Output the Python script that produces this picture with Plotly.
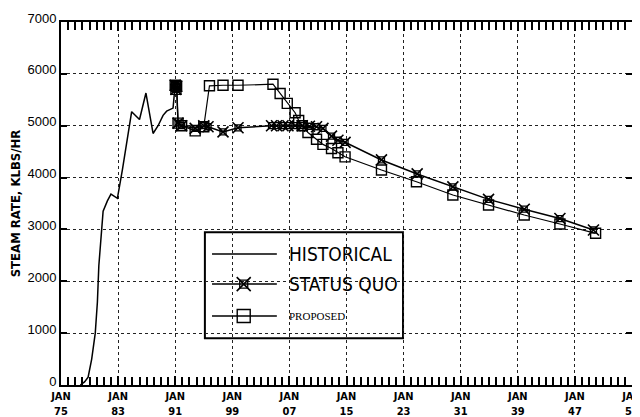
import plotly.graph_objects as go

# ---- data (years as decimal years) ----
hist_years = [1977.7, 1978.3, 1978.8, 1979.3, 1979.8, 1980.1, 1980.3, 1980.6, 1980.9,
              1981.5, 1982.0, 1982.9, 1983.6, 1984.9, 1985.6, 1986.0, 1986.9, 1987.9,
              1988.6, 1989.3, 1989.8, 1990.7, 1991.0]
hist_vals = [0, 60, 150, 500, 1000, 1600, 2300, 2900, 3350,
             3550, 3680, 3600, 4150, 5270, 5180, 5120, 5630, 4850,
             5000, 5200, 5280, 5340, 5800]

sq_years = [1991.0, 1991.1, 1991.2, 1991.4, 1991.9, 1993.8, 1995.0, 1995.6, 1997.7,
            1999.8, 2004.5, 2005.2, 2006.1, 2006.8, 2007.8, 2008.8, 2009.8, 2010.8,
            2011.7, 2012.9, 2013.8, 2014.8, 2019.9, 2024.9, 2029.9, 2034.9, 2039.9,
            2044.9, 2049.6]
sq_vals = [5780, 5700, 5760, 5050, 5000, 4950, 5000, 4980, 4880,
           4960, 5000, 5000, 5000, 5000, 5000, 5000, 4990, 4980,
           4950, 4800, 4720, 4680, 4340, 4070, 3820, 3580, 3390,
           3210, 2990]

prop_years = [1991.0, 1991.1, 1991.2, 1991.4, 1991.9, 1993.8, 1995.0, 1995.8, 1997.7,
              1999.8, 2004.7, 2005.7, 2006.7, 2007.8, 2008.3, 2008.8, 2009.6, 2010.8,
              2011.7, 2012.9, 2013.8, 2014.8, 2019.9, 2024.8, 2029.9, 2034.9, 2039.9,
              2044.9, 2049.9]
prop_vals = [5780, 5700, 5760, 5050, 5000, 4900, 4980, 5770, 5780,
             5780, 5800, 5620, 5430, 5250, 5100, 5000, 4870, 4740,
             4640, 4560, 4480, 4400, 4146, 3920, 3664, 3471, 3278,
             3105, 2925]

x_tick_years = [1975, 1983, 1991, 1999, 2007, 2015, 2023, 2031, 2039, 2047, 2055]
x_ticktext = ["JAN<br>75", "JAN<br>83", "JAN<br>91", "JAN<br>99", "JAN<br>07", "JAN<br>15",
              "JAN<br>23", "JAN<br>31", "JAN<br>39", "JAN<br>47", "JAN<br>55"]
y_tickvals = [0, 1000, 2000, 3000, 4000, 5000, 6000, 7000]

legend_names = ["HISTORICAL", "STATUS QUO", "PROPOSED"]

X_RANGE = [1975, 2055]
Y_RANGE = [0, 7000]

# ---- legend layout (fractions of plot area) ----
leg_box = dict(x0=0.252, x1=0.599, y0=0.129, y1=0.421)
leg_rows_y = [0.361, 0.278, 0.190]
leg_line_x = [0.2645, 0.378]
leg_marker_x = 0.320
leg_text_x = 0.396


def fx(f):
    return X_RANGE[0] + f * (X_RANGE[1] - X_RANGE[0])


def fy(f):
    return Y_RANGE[0] + f * (Y_RANGE[1] - Y_RANGE[0])


COND = "DejaVu Sans Condensed, Liberation Sans Narrow, sans-serif"

X_MARK = dict(symbol="x-thin-open", size=11, color="black", line=dict(width=1.6, color="black"))
X_BOX = dict(symbol="square-open", size=6, color="black", line=dict(width=1.3, color="black"))
P_MARK = dict(symbol="square-open", size=10, color="black", line=dict(width=1.4, color="black"))

fig = go.Figure()

fig.add_trace(go.Scatter(x=hist_years, y=hist_vals, mode="lines",
                         line=dict(color="black", width=1.5), showlegend=False))
fig.add_trace(go.Scatter(x=sq_years, y=sq_vals, mode="lines+markers",
                         line=dict(color="black", width=1.5), marker=X_MARK,
                         showlegend=False))
fig.add_trace(go.Scatter(x=sq_years, y=sq_vals, mode="markers", marker=X_BOX,
                         showlegend=False))
fig.add_trace(go.Scatter(x=prop_years, y=prop_vals, mode="lines+markers",
                         line=dict(color="black", width=1.2), marker=P_MARK,
                         showlegend=False))

# ---- manual legend ----
marker_sets = [[], [dict(X_MARK, size=14), dict(X_BOX, size=8)], [dict(P_MARK, size=13)]]
for yv, mks in zip(leg_rows_y, marker_sets):
    fig.add_trace(go.Scatter(x=[fx(v) for v in leg_line_x], y=[fy(yv), fy(yv)],
                             mode="lines", line=dict(color="black", width=1.5),
                             showlegend=False))
    for mk in mks:
        fig.add_trace(go.Scatter(x=[fx(leg_marker_x)], y=[fy(yv)], mode="markers",
                                 marker=mk, showlegend=False))

fig.add_shape(type="rect", xref="paper", yref="paper", layer="between",
              line=dict(color="black", width=2), fillcolor="white", **leg_box)

fonts = [dict(family=COND, size=19, color="black"),
         dict(family=COND, size=19, color="black"),
         dict(family="Liberation Serif", size=11, color="black")]
for name, yv, f in zip(legend_names, leg_rows_y, fonts):
    fig.add_annotation(x=leg_text_x, y=yv, xref="paper", yref="paper", text=name,
                       showarrow=False, xanchor="left", yanchor="middle", font=f)

alias = {str(v): t for v, t in zip(x_tick_years, x_ticktext)}

# page has an 8px body margin: figure is 632x409 placed at (8,8)
fig.update_layout(
    width=632, height=409,
    margin=dict(l=53, r=8, t=14, b=32, autoexpand=False),
    paper_bgcolor="white", plot_bgcolor="white",
    font=dict(family="Liberation Sans", color="black"),
    xaxis=dict(range=X_RANGE, tickmode="linear", tick0=1975, dtick=8,
               labelalias=alias, ticks="inside", ticklen=9, tickwidth=1.5,
               tickcolor="black", mirror="allticks", showline=True, linecolor="black",
               linewidth=2, showgrid=True, gridcolor="#222", griddash="dot",
               gridwidth=1, zeroline=False, automargin=False,
               ticklabeloverflow="allow",
               tickfont=dict(family=COND, size=11, color="black", weight="bold"),
               minor=dict(dtick=1, ticks="inside", ticklen=8, tickwidth=1.5,
                          tickcolor="black", showgrid=False)),
    yaxis=dict(range=Y_RANGE, tickmode="array", tickvals=y_tickvals,
               ticks="inside", ticklen=6, tickwidth=1.5, tickcolor="black",
               mirror="allticks", showline=True, linecolor="black", linewidth=2,
               showgrid=True, gridcolor="#222", griddash="dot", gridwidth=1,
               zeroline=False, automargin=False, ticklabelshift=-4,
               tickfont=dict(family="Liberation Sans", size=13, color="black"),
               title=dict(text="STEAM RATE, KLBS/HR", standoff=4,
                          font=dict(family=COND, size=13, color="black",
                                    weight="bold"))),
    showlegend=False,
)

fig.write_html("out.html")
